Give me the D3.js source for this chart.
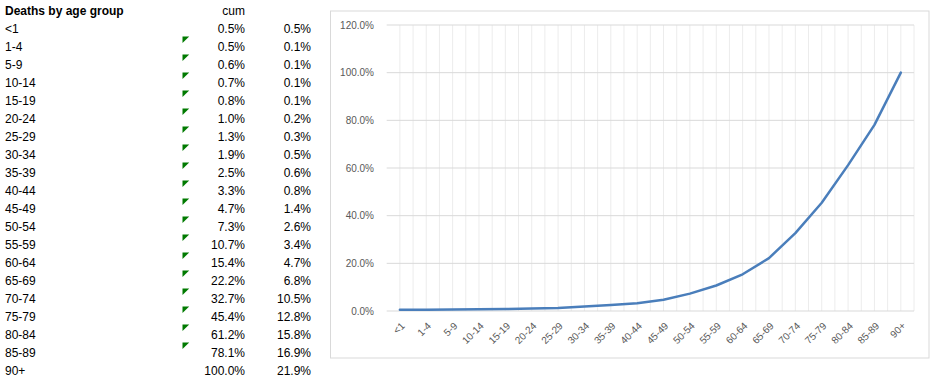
<!DOCTYPE html>
<html>
<head>
<meta charset="utf-8">
<script src="https://cdn.jsdelivr.net/npm/d3@7"></script>
<style>
  html, body { margin: 0; padding: 0; background: #ffffff; }
  svg { display: block; }
</style>
</head>
<body>
<svg id="chart" width="937" height="383"></svg>
<script>
// ---- data ----
const categories = ["<1","1-4","5-9","10-14","15-19","20-24","25-29","30-34","35-39","40-44",
  "45-49","50-54","55-59","60-64","65-69","70-74","75-79","80-84","85-89","90+"];
const cumValues = [0.5,0.5,0.6,0.7,0.8,1.0,1.3,1.9,2.5,3.3,4.7,7.3,10.7,15.4,22.2,32.7,45.4,61.2,78.1,100.0];
const shareValues = [0.5,0.1,0.1,0.1,0.1,0.2,0.3,0.5,0.6,0.8,1.4,2.6,3.4,4.7,6.8,10.5,12.8,15.8,16.9,21.9];
const yTicks = [0,20,40,60,80,100,120];
const tableTitle = "Deaths by age group";
const cumHeader = "cum";

const svg = d3.select("#chart");
const fmt = d3.format(".1f");

// ---- table ----
const tableFont = "'Liberation Sans', Arial, sans-serif";
const rowY = d3.scaleLinear().domain([0, 1]).range([32.5, 50.5]);

svg.append("text").attr("x", 5).attr("y", 15)
  .attr("font-family", tableFont).attr("font-size", 12).attr("font-weight", "bold")
  .attr("fill", "#000").text(tableTitle);
svg.append("text").attr("x", 245).attr("y", 15).attr("text-anchor", "end")
  .attr("font-family", tableFont).attr("font-size", 12)
  .attr("fill", "#000").text(cumHeader);

const rows = svg.append("g").selectAll("g").data(categories).join("g")
  .attr("transform", (d, i) => `translate(0,${rowY(i)})`);
rows.append("text").attr("x", 5).attr("font-family", tableFont).attr("font-size", 12)
  .attr("fill", "#000").text(d => d);
rows.append("text").attr("x", 245).attr("text-anchor", "end").attr("font-family", tableFont)
  .attr("font-size", 12).attr("fill", "#000").text((d, i) => fmt(cumValues[i]) + "%");
rows.append("text").attr("x", 311).attr("text-anchor", "end").attr("font-family", tableFont)
  .attr("font-size", 12).attr("fill", "#000").text((d, i) => fmt(shareValues[i]) + "%");
rows.filter((d, i) => i > 0 && i < categories.length - 1)
  .append("path")
  .attr("d", "M182.5,-14 L189.2,-14 L182.5,-7.6 Z")
  .attr("fill", "#007a00");

// ---- chart ----
const frame = { x: 330.5, y: 11, w: 598.5, h: 347 };
svg.append("rect").attr("x", frame.x).attr("y", frame.y).attr("width", frame.w).attr("height", frame.h)
  .attr("fill", "#fff").attr("stroke", "#d9d9d9").attr("stroke-width", 1);

const plot = { left: 386.7, right: 914, top: 25, bottom: 311 };
const x = d3.scaleBand().domain(categories).range([plot.left, plot.right]).padding(0);
const y = d3.scaleLinear().domain([0, 120]).range([plot.bottom, plot.top]);
const cx = d => x(d) + x.bandwidth() / 2;

const g = svg.append("g");
// vertical gridlines at every half category
const half = x.bandwidth() / 2;
const vlines = d3.range(1, categories.length * 2 + 1).map(k => plot.left + k * half);
g.selectAll("line.v").data(vlines).join("line").attr("class", "v")
  .attr("x1", d => d).attr("x2", d => d).attr("y1", y(120)).attr("y2", y(0))
  .attr("stroke", "#ececec").attr("stroke-width", 1);
// horizontal gridlines
g.selectAll("line.h").data(yTicks.filter(t => t > 0)).join("line").attr("class", "h")
  .attr("x1", plot.left).attr("x2", plot.right).attr("y1", d => y(d)).attr("y2", d => y(d))
  .attr("stroke", "#d9d9d9").attr("stroke-width", 1);
// x axis baseline
g.append("line").attr("x1", plot.left).attr("x2", plot.right).attr("y1", y(0)).attr("y2", y(0))
  .attr("stroke", "#d9d9d9").attr("stroke-width", 1);

// y axis labels
const axisFont = "'Liberation Sans', Arial, sans-serif";
const yAxis = d3.axisLeft(y).tickValues(yTicks).tickSize(0).tickPadding(12.7)
  .tickFormat(d => fmt(d) + "%");
const ya = svg.append("g").attr("transform", `translate(${plot.left},0)`).call(yAxis);
ya.select(".domain").remove();
ya.selectAll("text").attr("font-family", axisFont).attr("font-size", 10).attr("fill", "#595959");

// x axis labels
const xa = svg.append("g");
xa.selectAll("text").data(categories).join("text")
  .attr("transform", d => `translate(${cx(d) + 3},${plot.bottom + 13}) rotate(-45)`)
  .attr("text-anchor", "end").attr("dy", "0.35em")
  .attr("font-family", axisFont).attr("font-size", 10).attr("fill", "#595959")
  .text(d => d);

// line
const line = d3.line().x((d, i) => cx(categories[i])).y(d => y(d)).curve(d3.curveLinear);
svg.append("path").datum(cumValues).attr("d", line)
  .attr("fill", "none").attr("stroke", "#4a7ebb").attr("stroke-width", 2.5)
  .attr("stroke-linecap", "round").attr("stroke-linejoin", "round");
</script>
</body>
</html>
